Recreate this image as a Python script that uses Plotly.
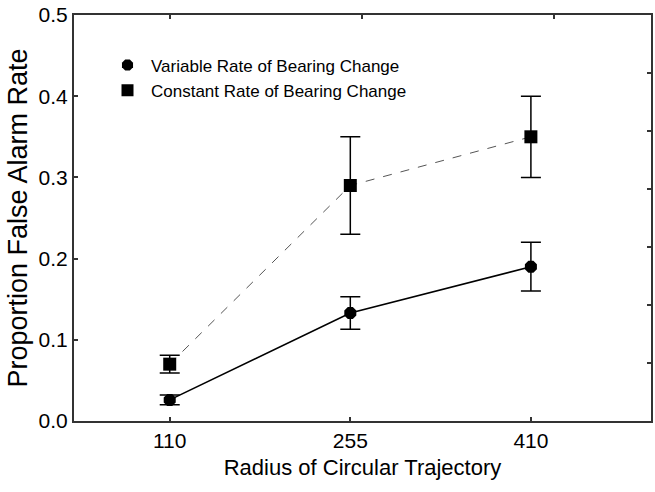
import plotly.graph_objects as go

categories = ["110", "255", "410"]
variable_vals = [0.026, 0.133, 0.19]
variable_err = [0.006, 0.02, 0.03]
constant_vals = [0.07, 0.29, 0.35]
constant_err = [0.011, 0.06, 0.05]
series_names = ["Variable Rate of Bearing Change", "Constant Rate of Bearing Change"]
y_ticks = [0.0, 0.1, 0.2, 0.3, 0.4, 0.5]

xpos = list(range(len(categories)))
font = "Liberation Sans, Arial, sans-serif"

fig = go.Figure()
fig.add_trace(go.Scatter(
    x=xpos, y=constant_vals, mode="lines+markers", showlegend=False,
    line=dict(color="#555555", width=1, dash="dash"),
    marker=dict(symbol="square", size=13, color="black"),
    error_y=dict(type="data", array=constant_err, color="black", thickness=1.5, width=10),
))
fig.add_trace(go.Scatter(
    x=xpos, y=variable_vals, mode="lines+markers", showlegend=False,
    line=dict(color="black", width=1.6),
    marker=dict(symbol="octagon", size=13, color="black"),
    error_y=dict(type="data", array=variable_err, color="black", thickness=1.5, width=10),
))
# legend entries
fig.add_trace(go.Scatter(x=[None], y=[None], mode="markers", name=series_names[0],
                         marker=dict(symbol="octagon", size=12, color="black")))
fig.add_trace(go.Scatter(x=[None], y=[None], mode="markers", name=series_names[1],
                         marker=dict(symbol="square", size=12, color="black")))
# empty trace so the mirrored frame axes (top/right ticks) are drawn
fig.add_trace(go.Scatter(x=[None], y=[None], xaxis="x2", yaxis="y2", showlegend=False,
                         hoverinfo="skip"))

axis_common = dict(showline=True, linecolor="#333333", linewidth=2, ticks="inside",
                   tickcolor="#333333", ticklen=4, tickwidth=1.5, showgrid=False,
                   zeroline=False, automargin=False)

fig.update_layout(
    width=655, height=492,
    margin=dict(l=74, r=4, t=15, b=71),
    plot_bgcolor="white", paper_bgcolor="white",
    font=dict(family=font, size=21, color="black"),
    xaxis=dict(axis_common, range=[-0.53, 2.665], tickvals=xpos, ticktext=categories,
               title=dict(text="Radius of Circular Trajectory", font=dict(size=22), standoff=8)),
    yaxis=dict(axis_common, range=[0, 0.5], tickvals=y_ticks,
               ticktext=[f"{v:.1f}" for v in y_ticks],
               title=dict(text="Proportion False Alarm Rate", font=dict(size=27), standoff=3)),
    xaxis2=dict(axis_common, overlaying="x", side="top", range=[0, 3.005],
                tickvals=[0.5, 1.5, 2.5], showticklabels=False),
    yaxis2=dict(axis_common, overlaying="y", side="right", range=[0, 7],
                tickvals=[1, 2, 3, 4, 5, 6], showticklabels=False),
    legend=dict(x=0.052, y=0.92, xanchor="left", yanchor="top", itemwidth=37,
                font=dict(size=17), bgcolor="rgba(0,0,0,0)", tracegroupgap=0),
)

fig.write_html("out.html", config={"displayModeBar": False},
               post_script="document.body.style.margin='0px';")
